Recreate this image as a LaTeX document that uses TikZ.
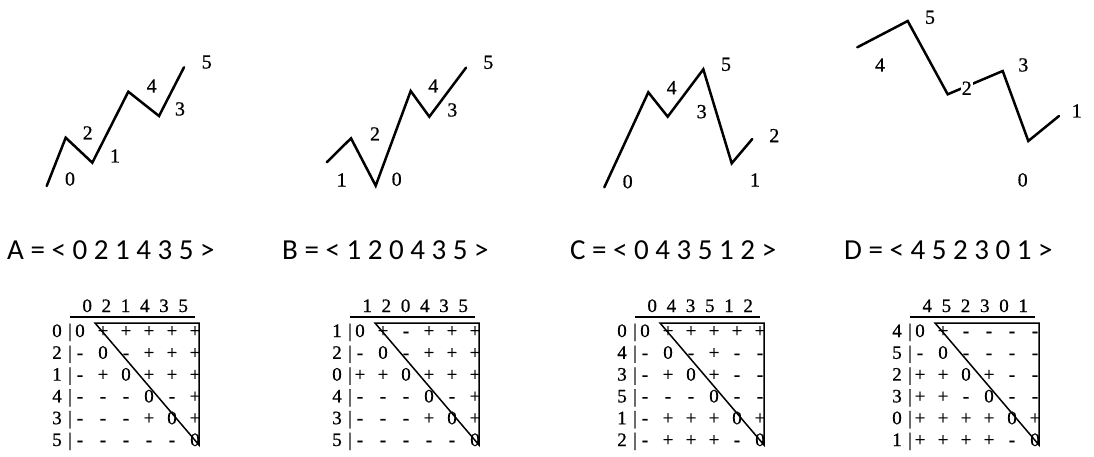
\documentclass[tikz,border=0pt]{standalone}
\usepackage{fontspec}
\setmainfont{Liberation Serif}
\newfontfamily\scanfont[FakeBold=0.7]{Liberation Serif}
\newfontfamily\seqfont{Carlito}
\usetikzlibrary{positioning}

\begin{document}
\begin{tikzpicture}[
  x=1pt, y=-1pt,
  walk/.style = {line width=2.5pt, line cap=round},
  lbl/.style  = {font=\scanfont\fontsize{20}{22}\selectfont, inner sep=0pt,
                 text height=13pt, text depth=0pt},
  gap/.style  = {lbl, fill=white, inner sep=1pt},
  seq/.style  = {font=\seqfont\fontsize{29}{33}\selectfont, inner sep=0pt,
                 anchor=west},
  cell/.style = {font=\scanfont\fontsize{19}{21}\selectfont, inner sep=0pt,
                 text height=12pt, text depth=0pt},
  frm/.style  = {line width=1.5pt}
]
\useasboundingbox (0,0) rectangle (1094,457);

% ============================ the four walks ================================
\coordinate (A0) at (46.7,186);  \coordinate (A1) at (65.7,137.7);
\coordinate (A2) at (92.3,162.7); \coordinate (A3) at (128.3,91.7);
\coordinate (A4) at (159,116);   \coordinate (A5) at (184,67.3);
\draw[walk] (A0) -- (A1) -- (A2) -- (A3) -- (A4) -- (A5);
\node[lbl] (la0) at (70,179)    {0};
\node[lbl] (la2) at (87.7,133)  {2};
\node[lbl] (la1) at (115,156)   {1};
\node[lbl] (la4) at (151.7,86)  {4};
\node[lbl] (la3) at (180,109)   {3};
\node[lbl] (la5) at (206.7,62)  {5};

\coordinate (B0) at (326.7,162.3); \coordinate (B1) at (351,138.3);
\coordinate (B2) at (375.7,185.7); \coordinate (B3) at (410.7,91);
\coordinate (B4) at (429.3,116.7); \coordinate (B5) at (466,67.7);
\draw[walk] (B0) -- (B1) -- (B2) -- (B3) -- (B4) -- (B5);
\node[lbl] (lb1) at (341.7,180)   {1};
\node[lbl] (lb2) at (375,134)     {2};
\node[lbl] (lb0) at (396.7,179.3) {0};
\node[lbl] (lb4) at (433.3,86)    {4};
\node[lbl] (lb3) at (452.3,110)   {3};
\node[lbl] (lb5) at (488.3,62.3)  {5};

\coordinate (C0) at (604.3,187.3); \coordinate (C1) at (648.3,92.3);
\coordinate (C2) at (667.7,116.7); \coordinate (C3) at (703.3,69.3);
\coordinate (C4) at (731.7,163.3); \coordinate (C5) at (752.3,139);
\draw[walk] (C0) -- (C1) -- (C2) -- (C3) -- (C4) -- (C5);
\node[lbl] (lc0) at (627.7,181.7) {0};
\node[lbl] (lc4) at (671.7,87.7)  {4};
\node[lbl] (lc3) at (701.7,111.7) {3};
\node[lbl] (lc5) at (726,64.3)    {5};
\node[lbl] (lc1) at (755,180)     {1};
\node[lbl] (lc2) at (774.3,135.7) {2};

\coordinate (D0) at (857.3,47.3);  \coordinate (D1) at (907.7,21);
\coordinate (D2) at (947.7,94.3);  \coordinate (D3) at (1002.7,71);
\coordinate (D4) at (1028.3,141);  \coordinate (D5) at (1059,116);
\draw[walk] (D0) -- (D1) -- (D2) -- (D3) -- (D4) -- (D5);
\node[lbl] (ld4) at (880,65)      {4};
\node[lbl] (ld5) at (930,17.3)    {5};
% the 2 sits on the line and breaks it
\node[gap] (ld2) at (966.7,88.3)  {2};
\node[lbl] (ld3) at (1023.3,65)   {3};
\node[lbl] (ld0) at (1022.7,180)  {0};
\node[lbl] (ld1) at (1076.7,111)  {1};

% ============================ the sequences =================================
\node[seq] (sa) at (7,250)   {A = < 0 2 1 4 3 5 >};
\node[seq] (sb) at (282,250) {B = < 1 2 0 4 3 5 >};
\node[seq] (sc) at (570,250) {C = < 0 4 3 5 1 2 >};
\node[seq] (sd) at (844,250) {D = < 4 5 2 3 0 1 >};

% ============================ the sign tables ===============================
% rows sit 21.8 apart, columns 23 apart; the triangle closes the upper part
\begin{scope}
  \foreach [count=\j] \d in {0,2,1,4,3,5}
    \node[cell] (ah\j) at (68+19.2*\j,306) {\d};
  \foreach [count=\i] \lab/\row in {0/{0,+,+,+,+,+}, 2/{-,0,-,+,+,+},
      1/{-,+,0,+,+,+}, 4/{-,-,-,0,-,+}, 3/{-,-,-,+,0,+}, 5/{-,-,-,-,-,0}} {
    \node[cell] (a\i) at (57,309.2+21.8*\i) {\lab};
    \node[cell] (a\i-0) at (70,309.2+21.8*\i) {|};
    \foreach [count=\j] \c in \row
      \node[cell] (a\i-\j) at (57+23*\j,309.2+21.8*\i) {\c};
  }
  \draw[frm] (70,317) -- (195,317);
  \draw[frm] (95,323) -- (199,323) -- (199,445) -- cycle;
\end{scope}

\begin{scope}[shift={(280,0)}]
  \foreach [count=\j] \d in {1,2,0,4,3,5}
    \node[cell] (bh\j) at (68+19.2*\j,306) {\d};
  \foreach [count=\i] \lab/\row in {1/{0,+,-,+,+,+}, 2/{-,0,-,+,+,+},
      0/{+,+,0,+,+,+}, 4/{-,-,-,0,-,+}, 3/{-,-,-,+,0,+}, 5/{-,-,-,-,-,0}} {
    \node[cell] (b\i) at (57,309.2+21.8*\i) {\lab};
    \node[cell] (b\i-0) at (70,309.2+21.8*\i) {|};
    \foreach [count=\j] \c in \row
      \node[cell] (b\i-\j) at (57+23*\j,309.2+21.8*\i) {\c};
  }
  \draw[frm] (70,317) -- (195,317);
  \draw[frm] (95,323) -- (199,323) -- (199,445) -- cycle;
\end{scope}

\begin{scope}[shift={(565,0)}]
  \foreach [count=\j] \d in {0,4,3,5,1,2}
    \node[cell] (ch\j) at (68+19.2*\j,306) {\d};
  \foreach [count=\i] \lab/\row in {0/{0,+,+,+,+,+}, 4/{-,0,-,+,-,-},
      3/{-,+,0,+,-,-}, 5/{-,-,-,0,-,-}, 1/{-,+,+,+,0,+}, 2/{-,+,+,+,-,0}} {
    \node[cell] (c\i) at (57,309.2+21.8*\i) {\lab};
    \node[cell] (c\i-0) at (70,309.2+21.8*\i) {|};
    \foreach [count=\j] \c in \row
      \node[cell] (c\i-\j) at (57+23*\j,309.2+21.8*\i) {\c};
  }
  \draw[frm] (70,317) -- (195,317);
  \draw[frm] (95,323) -- (199,323) -- (199,445) -- cycle;
\end{scope}

\begin{scope}[shift={(840,0)}]
  \foreach [count=\j] \d in {4,5,2,3,0,1}
    \node[cell] (dh\j) at (68+19.2*\j,306) {\d};
  \foreach [count=\i] \lab/\row in {4/{0,+,-,-,-,-}, 5/{-,0,-,-,-,-},
      2/{+,+,0,+,-,-}, 3/{+,+,-,0,-,-}, 0/{+,+,+,+,0,+}, 1/{+,+,+,+,-,0}} {
    \node[cell] (d\i) at (57,309.2+21.8*\i) {\lab};
    \node[cell] (d\i-0) at (70,309.2+21.8*\i) {|};
    \foreach [count=\j] \c in \row
      \node[cell] (d\i-\j) at (57+23*\j,309.2+21.8*\i) {\c};
  }
  \draw[frm] (70,317) -- (195,317);
  \draw[frm] (95,323) -- (199,323) -- (199,445) -- cycle;
\end{scope}

\end{tikzpicture}
\end{document}
